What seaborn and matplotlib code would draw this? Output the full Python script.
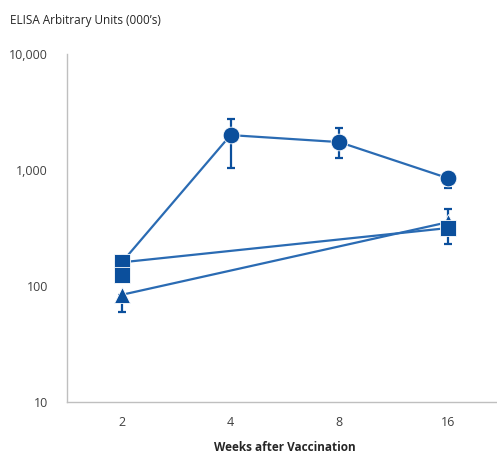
import pandas as pd
import numpy as np
import seaborn as sns
import matplotlib
matplotlib.use('Agg')
import matplotlib.pyplot as plt
from matplotlib.ticker import FixedLocator, NullLocator

# semanas y valores
weeks = ['2', '4', '8', '16']

circle_weeks = ['2', '4', '8', '16']
circle_vals = [160, 2000, 1740, 850]
circle_lo = [160, 1040, 1260, 700]
circle_hi = [160, 2760, 2300, 950]

square_weeks = ['2', '16']
square_vals = [160, 316]
square_lo = [160, 230]
square_hi = [160, 460]

triangle_weeks = ['2', '16']
triangle_vals = [84, 355]
triangle_lo = [60, 355]
triangle_hi = [84, 355]

extra_square_weeks = ['2']
extra_square_vals = [124]

dark = '#0B4F9C'
line_c = '#2A6BB3'

rows = []
for name, ws, vs in [('circle', circle_weeks, circle_vals),
                     ('square', square_weeks, square_vals),
                     ('triangle', triangle_weeks, triangle_vals)]:
    for w, v in zip(ws, vs):
        rows.append({'group': name, 'week': weeks.index(w), 'value': v})
df = pd.DataFrame(rows)

sns.set_style('white')
plt.rcParams['font.family'] = ['Open Sans', 'DejaVu Sans']

fig = plt.figure(figsize=(4.97, 4.55), dpi=100)
ax = fig.add_axes([0.1358, 0.1165, 0.875, 0.7648])

# el cuadrado se dibuja al final para que quede encima
sns.lineplot(data=df, x='week', y='value', hue='group', style='group',
             markers={'circle': 'o', 'square': 's', 'triangle': '^'},
             dashes=False, palette={'circle': line_c, 'square': line_c, 'triangle': line_c},
             hue_order=['circle', 'triangle', 'square'],
             linewidth=1.6, markersize=12, markerfacecolor=dark, markeredgecolor='white',
             markeredgewidth=0.6, legend=False, ax=ax, errorbar=None, sort=False)

# barras de error
for ws, vs, lo, hi in [(circle_weeks, circle_vals, circle_lo, circle_hi),
                       (square_weeks, square_vals, square_lo, square_hi),
                       (triangle_weeks, triangle_vals, triangle_lo, triangle_hi)]:
    xs = [weeks.index(w) for w in ws]
    err = [np.array(vs) - np.array(lo), np.array(hi) - np.array(vs)]
    ax.errorbar(xs, vs, yerr=err, fmt='none', ecolor=dark, elinewidth=1.6,
                capsize=3, capthick=1.6, zorder=1)

# cuadrado extra en la semana 2
ax.plot([weeks.index(w) for w in extra_square_weeks], extra_square_vals, 's',
        color=dark, markersize=12, markeredgecolor='white', markeredgewidth=0.6, zorder=5)

ax.set_yscale('log')
ax.set_ylim(10, 10000)
ax.set_xlim(-0.5, 3.5)
ax.yaxis.set_major_locator(FixedLocator([10, 100, 1000, 10000]))
ax.yaxis.set_minor_locator(NullLocator())
ax.set_yticklabels(['10', '100', '1,000', '10,000'])
ax.set_xticks(range(len(weeks)))
ax.set_xticklabels(weeks)
ax.tick_params(axis='both', length=0, labelsize=9, colors='#404040')
ax.tick_params(axis='y', pad=14)
ax.tick_params(axis='x', pad=10)

for s in ['top', 'right']:
    ax.spines[s].set_visible(False)
for s in ['left', 'bottom']:
    ax.spines[s].set_color('#BFBFBF')
    ax.spines[s].set_linewidth(1)

ax.set_ylabel('')
ax.set_xlabel('Weeks after Vaccination', fontsize=8.5, fontweight='bold', color='#262626', labelpad=9)
fig.text(0.02, 0.948, "ELISA Arbitrary Units (000\u2019s)", fontsize=8.5, color='#262626')

fig.savefig('out.png', dpi=100)
